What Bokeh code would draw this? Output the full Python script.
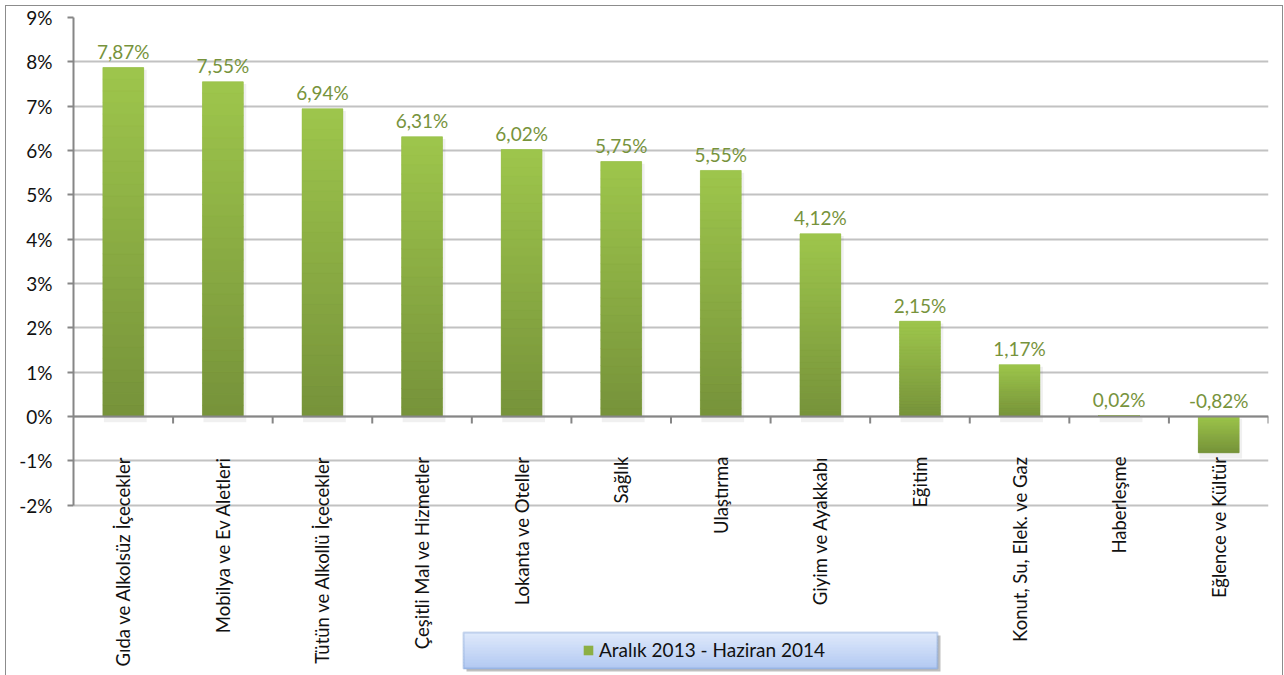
import math
from bokeh.plotting import figure
from bokeh.models import (Range1d, FixedTicker, PrintfTickFormatter, BoxAnnotation,
                          Legend, LegendItem, Span)
from bokeh.core.properties import value
from bokeh.embed import file_html
from bokeh.resources import INLINE

# ---------------- data ----------------
categories = ["Gıda ve Alkolsüz İçecekler", "Mobilya ve Ev Aletleri",
              "Tütün ve Alkollü İçecekler", "Çeşitli Mal ve Hizmetler",
              "Lokanta ve Oteller", "Sağlık", "Ulaştırma", "Giyim ve Ayakkabı",
              "Eğitim", "Konut, Su, Elek. ve Gaz", "Haberleşme", "Eğlence ve Kültür"]
values = [7.87, 7.55, 6.94, 6.31, 6.02, 5.75, 5.55, 4.12, 2.15, 1.17, 0.02, -0.82]
y_ticks = [-2, -1, 0, 1, 2, 3, 4, 5, 6, 7, 8, 9]
series_name = "Aralık 2013 - Haziran 2014"

# ---------------- layout (figure placed at page 5,5) ----------------
OFF = 5
FIG_W, FIG_H = 1278, 670
B_LEFT, B_RIGHT, B_TOP = 68, 15, 12
FRAME_W = FIG_W - B_LEFT - B_RIGHT
FRAME_H = FIG_H - B_TOP
Y_MAX = 9.0
Y_MIN = -5.842
N = len(categories)

FONT = value("Lato")
LIGHT = (158, 198, 76)
DARK = (118, 146, 58)
LABEL_GREEN = "#77933c"
AXIS_GRAY = "#868686"


def px_x(page_px):
    return (page_px - OFF - B_LEFT) / FRAME_W * N


def px_y(page_px):
    return Y_MAX - (page_px - OFF - B_TOP) / FRAME_H * (Y_MAX - Y_MIN)


def mix(t, a=LIGHT, b=DARK):
    r = [round(a[i] + (b[i] - a[i]) * t) for i in range(3)]
    return "#%02x%02x%02x" % tuple(r)


p = figure(width=FIG_W, height=FIG_H, x_range=Range1d(0, N), y_range=Range1d(Y_MIN, Y_MAX),
           output_backend="svg", toolbar_location=None, x_axis_location=None,
           min_border_left=B_LEFT, min_border_right=B_RIGHT, min_border_top=B_TOP,
           min_border_bottom=0)
p.border_fill_alpha = 0
p.background_fill_color = "white"
p.outline_line_color = None
p.styles = {"margin": "%dpx 0 0 %dpx" % (OFF, OFF),
            "box-shadow": "inset 1px 1px 0 #8c8c8c, inset -1px 0 0 #8c8c8c"}

# y axis
yax = p.yaxis[0]
yax.ticker = FixedTicker(ticks=y_ticks)
yax.formatter = PrintfTickFormatter(format="%d%%")
yax.bounds = (y_ticks[0], y_ticks[-1])
yax.axis_line_color = AXIS_GRAY
yax.axis_line_width = 2
yax.major_tick_line_color = AXIS_GRAY
yax.major_tick_line_width = 2
yax.major_tick_out = 6
yax.major_tick_in = 0
yax.minor_tick_line_color = None
yax.major_label_text_font = "Lato"
yax.major_label_text_font_size = "19px"
yax.major_label_text_color = "#111111"
yax.major_label_standoff = 15

p.xgrid.visible = False
p.ygrid.ticker = FixedTicker(ticks=y_ticks)
p.ygrid.grid_line_color = "#c2c2c2"
p.ygrid.grid_line_width = 2

xs = [i + 0.5 for i in range(N)]

# bar shadows
p.vbar(x=[x + 0.02 for x in xs], width=0.43, top=[max(v, 0) - 0.05 for v in values],
       bottom=[min(v, 0) - 0.13 for v in values], fill_color="#000000", fill_alpha=0.06,
       line_color=None)

# main bars
bars = p.vbar(x=xs, width=0.41, top=values, bottom=0, fill_color=mix(0.45), line_color=None)

# gradient overlay strips
STRIPS = 30
sx, st, sb, sc = [], [], [], []
for x, v in zip(xs, values):
    for k in range(STRIPS):
        lo = v * k / STRIPS
        hi = v * (k + 1) / STRIPS
        frac = (k + 0.5) / STRIPS
        t = 1 - frac if v >= 0 else frac
        sx.append(x)
        st.append(max(lo, hi))
        sb.append(min(lo, hi))
        sc.append(mix(t))
p.vbar(x=sx, width=0.41, top=st, bottom=sb, fill_color=sc, line_color=sc, line_width=0.5)

# zero axis line with category ticks
p.add_layout(Span(location=0, dimension="width", line_color=AXIS_GRAY, line_width=2))
bounds_x = list(range(1, N + 1))
p.segment(x0=bounds_x, y0=[0] * N, x1=bounds_x, y1=[px_y(423)] * N,
          line_color=AXIS_GRAY, line_width=2)

# value labels
labels = [("%.2f" % v).replace(".", ",") + "%" for v in values]
p.text(x=xs, y=[max(v, 0) for v in values], text=labels, text_align="center",
       text_baseline="alphabetic", y_offset=-16, text_font=FONT, text_font_size="19px",
       text_color=LABEL_GREEN)

# category labels (vertical)
p.text(x=xs, y=[px_y(456)] * N, text=categories, angle=math.pi / 2, text_align="right",
       text_baseline="middle", text_font=FONT, text_font_size="18.5px", text_color="#111111")

# legend box (shadow, gradient fill, border)
box_l, box_r, box_t, box_b = 463, 937, 632, 668
p.add_layout(BoxAnnotation(left=px_x(box_l + 3), right=px_x(box_r + 3), top=px_y(box_t + 3),
                           bottom=px_y(box_b + 3), fill_color="#000000", fill_alpha=0.25,
                           line_color=None))
BOX_TOP_C = (223, 233, 251)
BOX_BOT_C = (178, 201, 242)
GSTEPS = 12
for k in range(GSTEPS):
    t0 = box_t + (box_b - box_t) * k / GSTEPS
    t1 = box_t + (box_b - box_t) * (k + 1) / GSTEPS
    p.add_layout(BoxAnnotation(left=px_x(box_l), right=px_x(box_r), top=px_y(t0),
                               bottom=px_y(t1) - 0.01,
                               fill_color=mix((k + 0.5) / GSTEPS, BOX_TOP_C, BOX_BOT_C),
                               fill_alpha=1.0, line_color=None))
p.add_layout(BoxAnnotation(left=px_x(box_l), right=px_x(box_r), top=px_y(box_t),
                           bottom=px_y(box_b), fill_alpha=0,
                           line_color="#5a86c6", line_width=2))

legend = Legend(items=[LegendItem(label=series_name, renderers=[bars])],
                location=(505, 10), padding=4, margin=0, glyph_width=12, glyph_height=12,
                label_standoff=5, label_text_font="Lato", label_text_font_size="19px",
                label_text_color="#111111", background_fill_alpha=0, border_line_alpha=0)
p.add_layout(legend, "center")

open("out.html", "w").write(file_html(p, INLINE))
